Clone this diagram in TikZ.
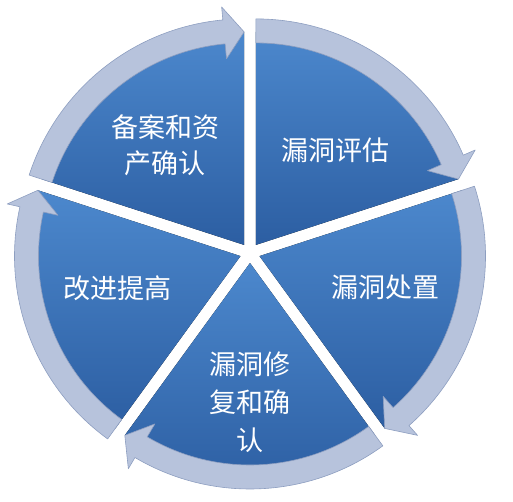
\documentclass[tikz,border=0pt]{standalone}
\usepackage{fontspec}
\usepackage{xcolor}
\usepackage{tikz}
\newfontfamily\cjk{Noto Sans CJK SC}
\definecolor{pieLight}{HTML}{4C88CD}
\definecolor{pieDark}{HTML}{2C5EA2}
\definecolor{ringGray}{HTML}{B7C3DC}
\definecolor{ringEdge}{HTML}{8D9EC0}

% one exploded slice, #1 = middle angle
\newcommand{\pieslice}[1]{%
  \begin{scope}[shift={({#1}:10)}]
    \fill[top color=pieLight, bottom color=pieDark] (0,0) -- ({#1-36}:213) arc[start angle={#1-36}, end angle={#1+36}, radius=213] -- cycle;
  \end{scope}}
% the ring arrow over that slice, head at the clockwise end
\newcommand{\ringarrow}[1]{%
  \begin{scope}[shift={({#1}:10)}]
    \filldraw[fill=ringGray, draw=ringEdge, line width=0.6pt, line join=round]
      ({#1+36}:226) arc[start angle={#1+36}, end angle={#1-30.6}, radius=226]
      -- ({#1-30.6}:239) -- ({#1-36}:213) -- ({#1-30.6}:187) -- ({#1-30.6}:202)
      arc[start angle={#1-30.6}, end angle={#1+36}, radius=202]
      -- cycle;
  \end{scope}}

\begin{document}
\begin{tikzpicture}[x=1pt, y=1pt, every node/.style={text=white, align=center, font=\cjk\fontsize{27}{36}\selectfont}]
\useasboundingbox (0,0) rectangle (513,501);

\begin{scope}[shift={(250,248)}]
\foreach \m in {126,54,-18,-90,198} {\pieslice{\m}}
\foreach \m in {126,54,-18,-90,198} {\ringarrow{\m}}
\end{scope}

\node (record) at (165,356) {备案和资\\产确认};
\node (assess) at (335,351) {漏洞评估};
\node (dispose) at (385,214) {漏洞处置};
\node[font=\cjk\fontsize{27}{38}\selectfont] (fix) at (250,99) {漏洞修\\复和确\\认};
\node (improve) at (117,213) {改进提高};
\end{tikzpicture}
\end{document}
